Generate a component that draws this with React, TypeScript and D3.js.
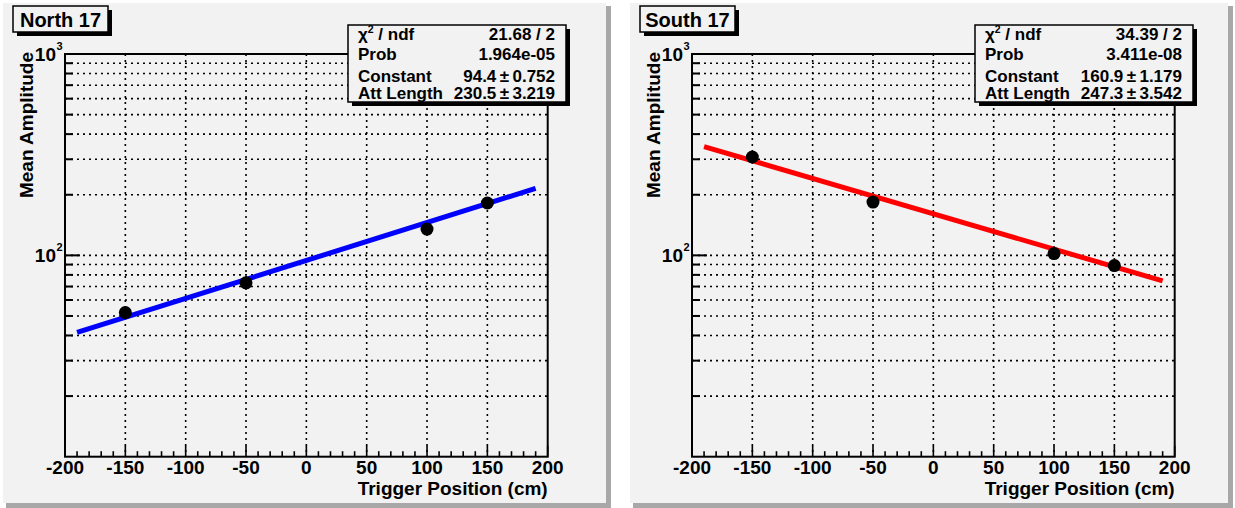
import React from "react";
import * as d3 from "d3";

// ---- data ----
const xTickValues = [-200, -150, -100, -50, 0, 50, 100, 150, 200];
const triggerPositions = [-150, -50, 100, 150];
const northAmplitude = [52, 73, 135, 182];
const southAmplitude = [308, 184, 102, 89];
const fitRangeX = [-190, 190];
const northFitY = [41.4, 215];
const southFitY = [347, 74.6];
const northTitle = "North 17";
const southTitle = "South 17";
const statLabels = ["χ2 / ndf", "Prob", "Constant", "Att Length"];
const northStatValues = ["21.68 / 2", "1.964e-05", "94.4\u2009±\u20090.752", "230.5\u2009±\u20093.219"];
const southStatValues = ["34.39 / 2", "3.411e-08", "160.9\u2009±\u20091.179", "247.3\u2009±\u20093.542"];
const yDomain = [10, 1000];
const xDomain = [-200, 200];
const xLabel = "Trigger Position (cm)";
const yLabel = "Mean Amplitude";

const FONT = "'Liberation Sans', Arial, Helvetica, sans-serif";
const BG = "#f2f2f2";
const AX_FS = 19;

type PanelProps = {
  dx: number;
  bgW: number;
  title: string;
  amps: number[];
  fitY: number[];
  color: string;
  stats: string[];
};

function Panel({ dx, bgW, title, amps, fitY, color, stats }: PanelProps) {
  const x0 = 65, x1 = 547.7, y0 = 54, y1 = 456.7;
  const x = d3.scaleLinear().domain(xDomain).range([x0, x1]);
  const y = d3.scaleLog().domain(yDomain).range([y1, y0]);

  const yMinor: number[] = [];
  [10, 100].forEach((d) => {
    for (let k = 2; k <= 9; k++) yMinor.push(d * k);
  });
  const yMajor = [100, 1000];
  const xMinor: number[] = [];
  for (let v = -200; v <= 200; v += 10) if (v % 50 !== 0) xMinor.push(v);

  const line = d3
    .line<number>()
    .x((_, i) => x(fitRangeX[i]))
    .y((d) => y(d));

  const dash = "2,4";
  return (
    <g transform={`translate(${dx},0)`}>
      {/* pad */}
      <rect x={3} y={3} width={bgW} height={500} fill={BG} />
      <rect x={3 + bgW} y={6} width={5} height={502} fill="#a8a8a8" />
      <rect x={6} y={503} width={bgW} height={5} fill="#a8a8a8" />

      {/* grid */}
      {[...yMinor, ...yMajor].map((v) => (
        <line key={"gy" + v} x1={x0} x2={x1} y1={y(v)} y2={y(v)} stroke="#000" strokeWidth={1.6} strokeDasharray={dash} />
      ))}
      {xTickValues.slice(1, -1).map((v) => (
        <line key={"gx" + v} x1={x(v)} x2={x(v)} y1={y0} y2={y1} stroke="#000" strokeWidth={1.6} strokeDasharray={dash} />
      ))}

      {/* ticks */}
      {yMajor.map((v) => (
        <line key={"ty" + v} x1={x0} x2={x0 + 15} y1={y(v)} y2={y(v)} stroke="#000" strokeWidth={2} />
      ))}
      {yMinor.map((v) => (
        <line key={"tym" + v} x1={x0} x2={x0 + 8} y1={y(v)} y2={y(v)} stroke="#000" strokeWidth={2} />
      ))}
      {xTickValues.map((v) => (
        <line key={"tx" + v} x1={x(v)} x2={x(v)} y1={y1} y2={y1 - 11} stroke="#000" strokeWidth={1.6} />
      ))}
      {xMinor.map((v) => (
        <line key={"txm" + v} x1={x(v)} x2={x(v)} y1={y1} y2={y1 - 5.5} stroke="#000" strokeWidth={1.6} />
      ))}

      {/* frame */}
      <rect x={x0} y={y0} width={x1 - x0} height={y1 - y0} fill="none" stroke="#000" strokeWidth={2} />

      {/* fit line */}
      <path d={line(fitY) || ""} stroke={color} strokeWidth={5} fill="none" />

      {/* points */}
      {triggerPositions.map((p, i) => (
        <circle key={"p" + p} cx={x(p)} cy={y(amps[i])} r={6.5} fill="#000" />
      ))}

      {/* x tick labels */}
      {xTickValues.map((v) => (
        <text key={"lx" + v} x={x(v)} y={474} textAnchor="middle" fontFamily={FONT} fontWeight="bold" fontSize={AX_FS} fill="#000">
          {v}
        </text>
      ))}
      <text x={x1} y={495} textAnchor="end" fontFamily={FONT} fontWeight="bold" fontSize={AX_FS} fill="#000">
        {xLabel}
      </text>

      {/* y tick labels */}
      {yMajor.map((v) => (
        <g key={"ly" + v}>
          <text x={x0 - 9} y={y(v) + 7} textAnchor="end" fontFamily={FONT} fontWeight="bold" fontSize={AX_FS} fill="#000">
            10
          </text>
          <text x={x0 - 5.5} y={y(v) - 4} textAnchor="middle" fontFamily={FONT} fontWeight="bold" fontSize={11} fill="#000">
            {Math.round(Math.log10(v))}
          </text>
        </g>
      ))}
      <text
        transform={`translate(33,52) rotate(-90)`}
        textAnchor="end"
        fontFamily={FONT}
        fontWeight="bold"
        fontSize={AX_FS}
        fill="#000"
      >
        {yLabel}
      </text>

      {/* title box */}
      <rect x={17} y={10} width={95} height={26} fill="#000" />
      <rect x={13} y={6} width={95} height={26} fill={BG} stroke="#000" strokeWidth={1.5} />
      <text x={60.5} y={27} textAnchor="middle" fontFamily={FONT} fontWeight="bold" fontSize={20} fill="#000">
        {title}
      </text>

      {/* stats box */}
      <rect x={352} y={29} width={218} height={77} fill="#000" />
      <rect x={348} y={25} width={218} height={77} fill={BG} stroke="#000" strokeWidth={1.5} />
      {statLabels.map((lab, i) => {
        const by = [40, 60, 82, 99][i];
        return (
          <g key={"s" + i}>
            {i === 0 ? (
              <text x={358} y={by} fontFamily={FONT} fontWeight="bold" fontSize={17} fill="#000">
                χ
                <tspan dy={-7} fontSize={10.5}>2</tspan>
                <tspan dy={7}> / ndf</tspan>
              </text>
            ) : (
              <text x={358} y={by} fontFamily={FONT} fontWeight="bold" fontSize={17} fill="#000">
                {lab}
              </text>
            )}
            <text x={555} y={by} textAnchor="end" fontFamily={FONT} fontWeight="bold" fontSize={17} fill="#000">
              {stats[i]}
            </text>
          </g>
        );
      })}
    </g>
  );
}

export default function App() {
  return (
    <svg
      width={1235}
      height={508}
      style={{ position: "absolute", left: 0, top: 0, background: "#fff" }}
    >
      <Panel dx={0} bgW={603} title={northTitle} amps={northAmplitude} fitY={northFitY} color="#0000ff" stats={northStatValues} />
      <Panel dx={627} bgW={598} title={southTitle} amps={southAmplitude} fitY={southFitY} color="#ff0000" stats={southStatValues} />
    </svg>
  );
}
